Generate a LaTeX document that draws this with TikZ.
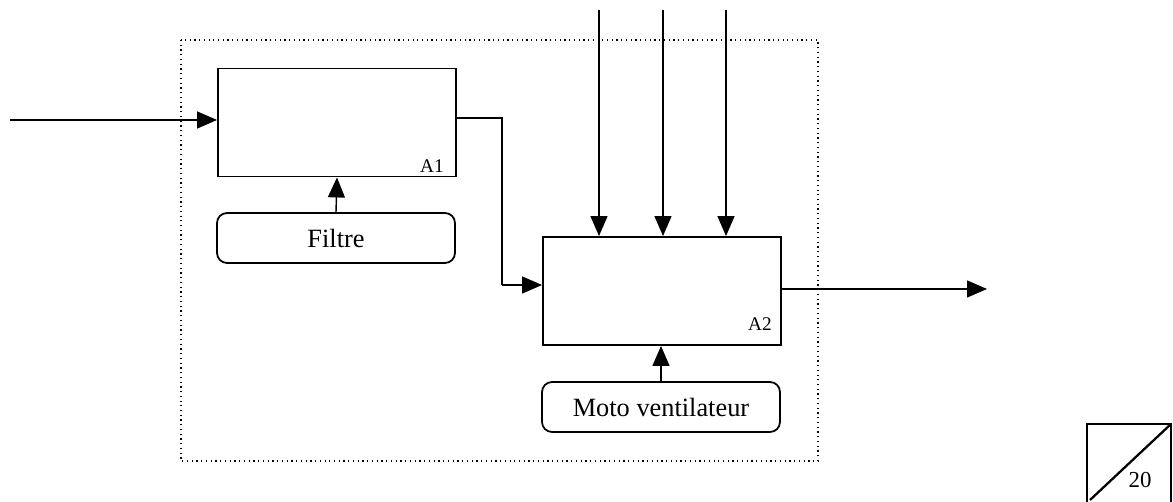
\documentclass[tikz,border=0pt]{standalone}
\usepackage{fontspec}
\setmainfont{Liberation Serif}
\usetikzlibrary{arrows.meta}
\begin{document}
\begin{tikzpicture}[x=0.02cm,y=-0.02cm,
  blk/.style={draw,line width=1.1pt,rectangle,minimum width=4.76cm,minimum height=2.16cm,inner sep=0pt},
  mech/.style={draw,line width=1.0pt,rounded corners=0.2cm,minimum width=4.76cm,minimum height=1.0cm,inner sep=0pt,font=\fontsize{15}{18}\selectfont},
  conn/.style={line width=0.8pt,-{Triangle[length=0.4cm,width=0.34cm]}},
  lbl/.style={font=\fontsize{11}{13}\selectfont,inner sep=0pt}]
\useasboundingbox (0,0) rectangle (1173,502);
% dotted frame
\draw[dotted,line width=0.7pt] (181,40) rectangle (818,461);
% blocks
\node[blk] (A1) at (337,122.5) {};
\node[blk] (A2) at (662,291) {};
\node[mech] (filtre) at (336,238) {Filtre};
\node[mech] (moto) at (661,407) {Moto ventilateur};
\node[lbl] (l1) at (432,166) {A1};
\node[lbl] (l2) at (760,324) {A2};
% coordinates
\coordinate (in) at (10,120);
\coordinate (b1) at (502,118);
\coordinate (b2) at (502,285);
\coordinate (t1) at (599,10);
\coordinate (t2) at (663,10);
\coordinate (t3) at (726,10);
\coordinate (out) at (987,289);
% connectors
\draw[conn] (in) -- (A1.west |- in);
\draw[line width=0.8pt] (A1.east |- b1) -- (b1) -- (b2);
\draw[conn] (b2) -- (A2.west |- b2);
\draw[conn] (filtre.north) -- (A1.south);
\draw[conn] (moto.north) -- (A2.south -| moto.north);
\draw[conn] (t1) -- (t1 |- A2.north);
\draw[conn] (t2) -- (t2 |- A2.north);
\draw[conn] (t3) -- (t3 |- A2.north);
\draw[conn] (A2.east |- out) -- (out);
% page note box
\draw[line width=1.0pt] (1087,510) -- (1087,424) -- (1171,424) -- (1171,510);
\draw[line width=1.3pt] (1090,500) -- (1171,424);
\node[font=\fontsize{13}{15}\selectfont,inner sep=0pt] (n20) at (1140,480) {20};
\end{tikzpicture}
\end{document}
